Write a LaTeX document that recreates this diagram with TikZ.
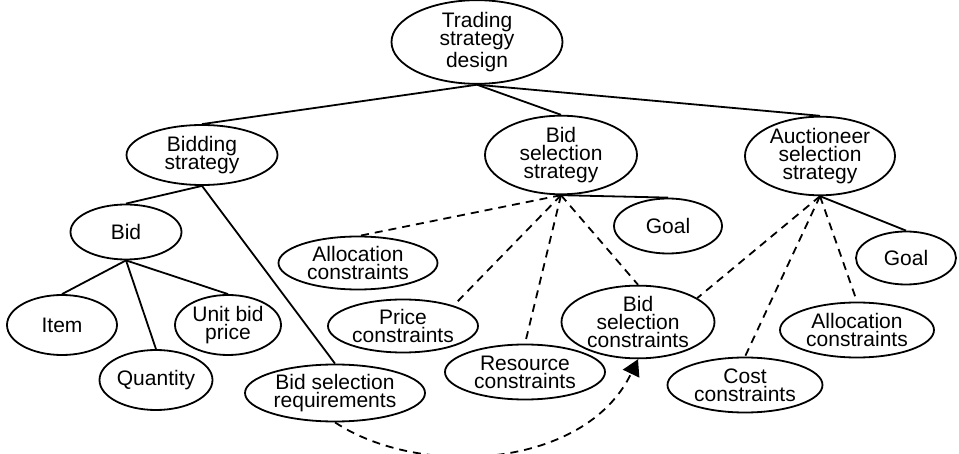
\documentclass[tikz,border=0pt]{standalone}
\usepackage{fontspec}
\setmainfont{Liberation Sans}
\usepackage{tikz}
\usetikzlibrary{shapes,arrows.meta,positioning,calc}

\tikzset{
	goalnode/.style={ellipse,draw,line width=0.9pt,inner sep=0pt,align=center,
		font=\fontsize{10.5}{9}\selectfont},
	sz/.style 2 args={minimum width=#1,minimum height=#2},
	link/.style={line width=0.9pt},
	dep/.style={line width=0.9pt,dash pattern=on 4pt off 3pt}
}

\begin{document}
\begin{tikzpicture}[x=0.5pt,y=-0.5pt]
		\useasboundingbox (0,0) rectangle (959,454);
		% top level
		\node[goalnode,sz={85.5pt}{39.5pt}] (trade) at (477,42) {Trading\\strategy\\design};
		\node[goalnode,sz={75.5pt}{30pt}] (bidding) at (202,155) {Bidding\\strategy};
		\node[goalnode,sz={76pt}{32pt}] (bidsel) at (561,155) {Bid\\selection\\strategy};
		\node[goalnode,sz={75pt}{29pt}] (auct) at (820,156) {Auctioneer\\selection\\strategy};
		% bidding side
		\node[goalnode,sz={55.5pt}{27.5pt}] (bid) at (126,232) {Bid};
		\node[goalnode,sz={55pt}{30pt}] (item) at (62,325) {Item};
		\node[goalnode,sz={53pt}{30pt}] (unit) at (228,325) {Unit bid\\price};
		\node[goalnode,sz={56.5pt}{30pt}] (qty) at (156,380) {Quantity};
		\node[goalnode,sz={90pt}{28.5pt}] (bsr) at (335,393) {Bid selection\\requirements};
		% bid selection side
		\node[goalnode,sz={79.5pt}{26.5pt}] (allocl) at (358,263) {Allocation\\constraints};
		\node[goalnode,sz={75pt}{26.5pt}] (price) at (403,326) {Price\\constraints};
		\node[goalnode,sz={80pt}{27.5pt}] (res) at (525,372) {Resource\\constraints};
		\node[goalnode,sz={76.5pt}{27.5pt}] (bsc) at (638,322) {Bid\\selection\\constraints};
		\node[goalnode,sz={54pt}{27.5pt}] (goalm) at (668,226) {Goal};
		% auctioneer side
		\node[goalnode,sz={50pt}{26.5pt}] (goalr) at (906,258) {Goal};
		\node[goalnode,sz={77pt}{27.5pt}] (allocr) at (857,330) {Allocation\\constraints};
		\node[goalnode,sz={77.5pt}{27.5pt}] (cost) at (745,385) {Cost\\constraints};

		\draw[link] (trade.south) -- (bidding.north);
		\draw[link] (trade.south) -- (bidsel.north);
		\draw[link] (trade.south) -- (auct.north);
		\draw[link] (bidding.south) -- (bid.north);
		\draw[link] (bidding.south) -- (bsr.north);
		\draw[link] (bid.south) -- (item.north);
		\draw[link] (bid.south) -- (qty.north);
		\draw[link] (bid.south) -- (unit.north);
		\draw[link] (bidsel.south) -- (goalm.north);
		\draw[link] (auct.south) -- (goalr.north);

		\draw[dep] (bidsel.south) -- (allocl.85);
		\draw[dep] (bidsel.south) -- (price.22);
		\draw[dep] (bidsel.south) -- (res.north);
		\draw[dep] (bidsel.south) -- (bsc.north);
		\draw[dep] (auct.south) -- (bsc.22);
		\draw[dep] (auct.south) -- (cost.north);
		\draw[dep] (auct.south) -- (allocr.north);

		\draw[dep,-{Triangle[length=8pt,width=9pt]}] (bsr.south) .. controls +(85,56) and +(-53,110) .. (bsc.south);
		
		\end{tikzpicture}
\end{document}
